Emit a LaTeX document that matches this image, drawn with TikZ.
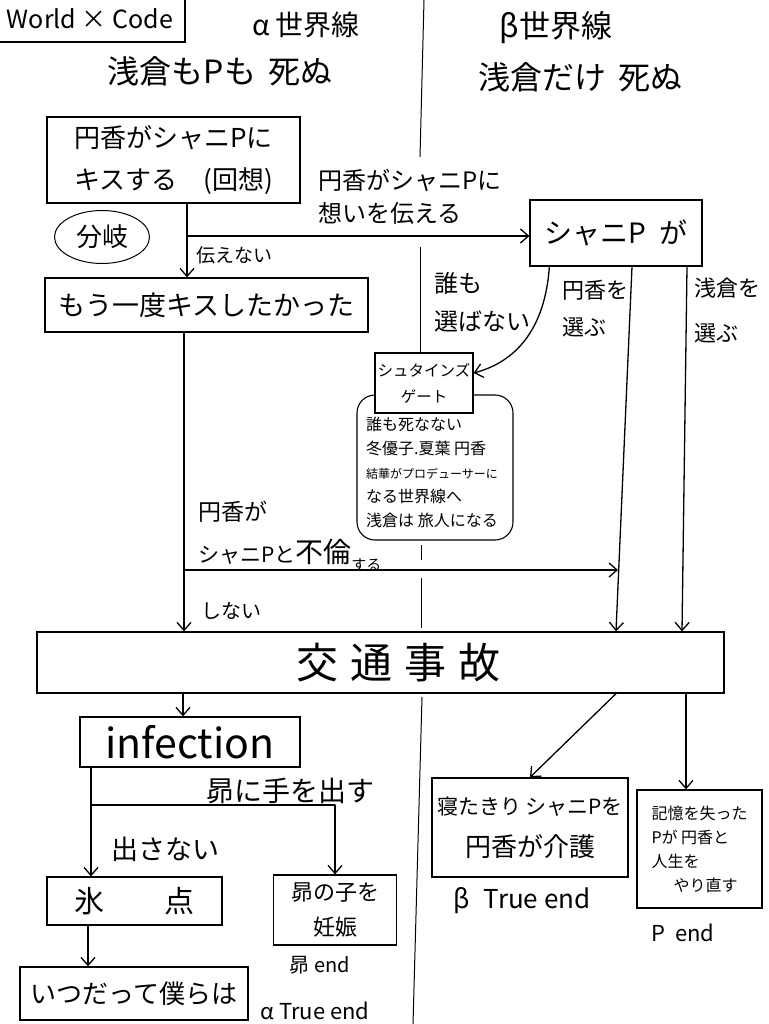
\documentclass[tikz,border=0pt]{standalone}
\usepackage{fontspec}
\setmainfont{Noto Sans CJK JP}
\usetikzlibrary{arrows.meta,shapes.geometric}
\newcommand{\myfs}[2]{\fontsize{#1}{#2}\selectfont}
\begin{document}
\begin{tikzpicture}[x=1pt,y=-1pt,
  ln/.style={line width=1.3pt, line cap=round, line join=round},
  arr/.style={ln, -{Straight Barb[length=8pt,width=14pt,line width=1.3pt]}},
  box/.style={draw, line width=1.3pt, inner sep=0pt, align=center},
  lbl/.style={inner sep=0pt, align=left, anchor=west},
  ctr/.style={inner sep=0pt, align=center, anchor=center}]
\useasboundingbox (0,0) rectangle (768,1024);
\fill[white] (0,0) rectangle (768,1024);

% divider between the two world lines
\draw[line width=1pt] (424,0) -- (420,157);
\draw[line width=1pt] (420,247) -- (420,355);
\draw[line width=1pt] (421,545) -- (421,560);
\draw[line width=1pt] (421,578) -- (421,628);
\draw[line width=1pt] (422,697) -- (413,1024);

% title
\node[box, minimum width=190pt, minimum height=46pt, font=\myfs{25}{25}] (title) at (90,19) {World × Code};

% headers
\node[ctr, font=\myfs{28}{28}] (alpha) at (306,25) {α 世界線};
\node[ctr, font=\myfs{32}{32}] (alphaS) at (220,71) {浅倉もPも\hspace{12pt}死ぬ};
\node[ctr, font=\myfs{31}{31}] (beta) at (556,28) {β世界線};
\node[ctr, font=\myfs{32}{32}] (betaS) at (580,77) {浅倉だけ\hspace{12pt}死ぬ};

% boxes
\node[box, minimum width=253pt, minimum height=86pt, align=left, font=\myfs{26}{42}] (A) at (173.5,160) {円香がシャニPに\\キスする\hspace{26pt}(回想)};
\node[draw, ellipse, line width=1pt, minimum width=95pt, minimum height=53pt, inner sep=0pt, font=\myfs{26}{26}] (E) at (102,237) {分岐};
\node[box, minimum width=323pt, minimum height=54pt, font=\myfs{27}{27}] (B) at (206.5,305) {もう一度キスしたかった};
\node[box, minimum width=172pt, minimum height=66pt, font=\myfs{28}{28}] (S) at (616,233) {シャニP\hspace{14pt}が};

\node[draw, line width=1.1pt, rounded corners=18pt, minimum width=156pt, minimum height=145pt, inner sep=0pt] (R) at (435,467.5) {};
\node[lbl, anchor=north west, font=\myfs{16}{24}] (Rt) at (366,417) {誰も死なない\\冬優子.夏葉 円香\\{\myfs{12}{24}結華がプロデューサーに}\\なる世界線へ\\浅倉は 旅人になる};
\node[box, fill=white, minimum width=98pt, minimum height=60pt, font=\myfs{15.5}{26}] (G) at (424,383) {シュタインズ\\ゲート};

\node[box, minimum width=687pt, minimum height=61pt, font=\myfs{42}{42}] (T) at (380.5,662.5) {\hspace*{36pt}交\hspace{12pt}通\hspace{12pt}事\hspace{12pt}故};

\node[box, minimum width=220pt, minimum height=50pt, font=\myfs{41}{41}] (I) at (190,742) {infection};
\node[box, minimum width=175pt, minimum height=48pt, font=\myfs{30}{30}] (H) at (134.5,901) {氷\hspace{60pt}点};
\node[box, minimum width=123pt, minimum height=70pt, font=\myfs{22}{35}] (K) at (335,910) {昴の子を\\妊娠};
\node[box, minimum width=228pt, minimum height=53pt, font=\myfs{26}{26}] (L) at (134,993.5) {いつだって僕らは};

\node[box, minimum width=196pt, minimum height=99pt, font=\myfs{21}{42}] (N) at (530,827.5) {寝たきり シャニPを\\{\myfs{26}{42}円香が介護}};
\node[box, minimum width=125pt, minimum height=118pt, align=left, font=\myfs{16}{24}] (M) at (699.5,849) {記憶を失った\\Pが 円香と\\人生を\\\hspace*{22pt}やり直す};

% labels
\node[lbl, font=\myfs{24}{33}] (l1) at (318,197) {円香がシャニPに\\想いを伝える};
\node[lbl, font=\myfs{19}{19}] (l2) at (196,255) {伝えない};
\node[lbl, font=\myfs{24}{38}] (l3) at (434,302) {誰も\\選ばない};
\node[lbl, font=\myfs{22}{37}] (l4) at (562,309) {円香を\\選ぶ};
\node[lbl, font=\myfs{22}{45}] (l5) at (694,311) {浅倉を\\選ぶ};
\node[lbl, font=\myfs{23}{23}] (l6) at (198,512) {円香が};
\node[lbl, anchor=base west] (l7) at (198,562) {{\myfs{21}{21}シャニPと}{\myfs{28}{28}不倫}\raisebox{-8pt}{\myfs{15}{15}する}};
\node[lbl, font=\myfs{20}{20}] (l8) at (201,611) {しない};
\node[ctr, font=\myfs{28}{28}] (l9) at (290,791) {昴に手を出す};
\node[ctr, font=\myfs{27}{27}] (l10) at (165,849) {出さない};
\node[ctr, font=\myfs{20}{20}] (l11) at (320,965) {昴 end};
\node[ctr, font=\myfs{22}{22}] (l12) at (315,1011) {α True end};
\node[ctr, font=\myfs{26}{26}] (l13) at (522,901) {β\hspace{14pt}True end};
\node[ctr, font=\myfs{22}{22}] (l14) at (683,933) {P\hspace{10pt}end};

% connectors
\coordinate (jA) at (187,236);
\draw[arr] (A.south -| jA) -- (B.north -| jA);
\draw[arr] (jA) -- (S.west |- jA);
\draw[arr] ([xshift=20pt]S.south west) .. controls (545,330) and (515,362) .. ([yshift=10pt]G.east);
\coordinate (mA) at (632,0);
\coordinate (mB) at (616,0);
\draw[arr] (S.south -| mA) -- (T.north -| mB);
\coordinate (aA) at (687,0);
\coordinate (aB) at (682,0);
\draw[arr] (S.south -| aA) -- (T.north -| aB);
\coordinate (jB) at (184,570);
\draw[arr] (B.south -| jB) -- (T.north -| jB);
\coordinate (mC) at (618,570);
\draw[arr] (jB) -- (mC);
\coordinate (jC) at (183,0);
\draw[arr] (T.south -| jC) -- (I.north -| jC);
\coordinate (jD) at (91,805);
\draw[arr] (I.south -| jD) -- (H.north -| jD);
\draw[arr] (jD) -| (K.north);
\coordinate (jE) at (88,0);
\draw[arr] (H.south -| jE) -- (L.north -| jE);
\draw[arr] (T.south -| mB) -- (N.north);
\coordinate (aC) at (686,0);
\draw[arr] (T.south -| aC) -- (M.north -| aC);
\end{tikzpicture}
\end{document}
